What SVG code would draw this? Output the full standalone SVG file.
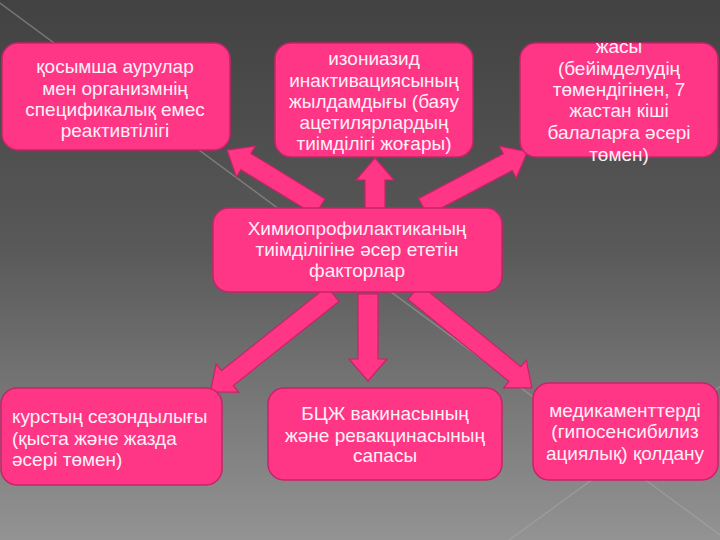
<svg xmlns="http://www.w3.org/2000/svg" width="720" height="540" viewBox="0 0 720 540">
  <defs>
    <linearGradient id="bg" x1="0" y1="0" x2="0" y2="1">
      <stop offset="0" stop-color="#424242"/>
      <stop offset="0.45" stop-color="#585858"/>
      <stop offset="1" stop-color="#939393"/>
    </linearGradient>
  </defs>
  <style>
    .box { fill: #ff3586; stroke: #c62468; stroke-width: 1.5; }
    .arrow { fill: #ff3586; stroke: #c62468; stroke-width: 1.2; stroke-linejoin: miter; }
    .t { font-family: "Liberation Sans", Arial, sans-serif; font-size: 19px; fill: #fff0f6; }
    .c { text-anchor: middle; }
    .deco { stroke: #a9a9a9; stroke-opacity: 0.5; stroke-width: 1.5; fill: none; }
  </style>
  <rect x="0" y="0" width="720" height="540" fill="url(#bg)"/>
  <line class="deco" x1="0" y1="3" x2="720" y2="535"/>
  <line class="deco" x1="505" y1="543" x2="725" y2="383"/>

  <g id="connectors">
    <path class="arrow" transform="translate(320,207) rotate(-148.5)" d="M0,-9.5 H87 V-18 L109,0 L87,18 V9.5 H0 Z"/>
    <path class="arrow" transform="translate(375,212) rotate(-90)" d="M0,-10 H32 V-19 L54,0 L32,19 V10 H0 Z"/>
    <path class="arrow" transform="translate(423,207) rotate(-27.9)" d="M0,-9.5 H96 V-18 L118,0 L96,18 V9.5 H0 Z"/>
    <path class="arrow" transform="translate(333,294) rotate(141.45)" d="M0,-9.5 H135 V-18 L157,0 L135,18 V9.5 H0 Z"/>
    <path class="arrow" transform="translate(368,294) rotate(90)" d="M0,-10 H65 V-19 L87,0 L65,19 V10 H0 Z"/>
    <path class="arrow" transform="translate(414,292) rotate(39.1)" d="M0,-9.5 H130 V-18 L152,0 L130,18 V9.5 H0 Z"/>
  </g>

  <g id="node-comorbid">
    <rect class="box" x="2" y="43" width="228" height="107" rx="16"/>
    <text class="t c" x="115" y="73">қосымша аурулар</text>
    <text class="t c" x="115" y="95">мен организмнің</text>
    <text class="t c" x="115" y="116">спецификалық емес</text>
    <text class="t c" x="115" y="137">реактивтілігі</text>
  </g>

  <g id="node-isoniazid">
    <rect class="box" x="275" y="43" width="198" height="114" rx="16"/>
    <text class="t c" x="374" y="65">изониазид</text>
    <text class="t c" x="374" y="87">инактивациясының</text>
    <text class="t c" x="374" y="108">жылдамдығы (баяу</text>
    <text class="t c" x="374" y="129">ацетилярлардың</text>
    <text class="t c" x="374" y="150">тиімділігі жоғары)</text>
  </g>

  <g id="node-age">
    <rect class="box" x="520" y="43" width="198" height="114" rx="16"/>
    <text class="t c" x="619" y="53">жасы</text>
    <text class="t c" x="619" y="75">(бейімделудің</text>
    <text class="t c" x="619" y="96">төмендігінен, 7</text>
    <text class="t c" x="619" y="117">жастан кіші</text>
    <text class="t c" x="619" y="139">балаларға әсері</text>
    <text class="t c" x="619" y="161">төмен)</text>
  </g>

  <g id="node-center">
    <rect class="box" x="213" y="208" width="289" height="84" rx="16"/>
    <text class="t c" x="357" y="235">Химиопрофилактиканың</text>
    <text class="t c" x="357" y="256">тиімділігіне әсер ететін</text>
    <text class="t c" x="357" y="277">факторлар</text>
  </g>

  <g id="node-season">
    <rect class="box" x="1" y="388" width="221" height="97" rx="16"/>
    <text class="t" x="12" y="423">курстың сезондылығы</text>
    <text class="t" x="12" y="445">(қыста және жазда</text>
    <text class="t" x="12" y="466">әсері төмен)</text>
  </g>

  <g id="node-bcg">
    <rect class="box" x="268" y="388" width="234" height="92" rx="16"/>
    <text class="t c" x="385" y="420">БЦЖ вакинасының</text>
    <text class="t c" x="385" y="442">және ревакцинасының</text>
    <text class="t c" x="385" y="462">сапасы</text>
  </g>

  <g id="node-drugs">
    <rect class="box" x="533" y="383" width="185" height="97" rx="16"/>
    <text class="t c" x="625" y="417">медикаменттерді</text>
    <text class="t c" x="625" y="438">(гипосенсибилиз</text>
    <text class="t c" x="625" y="460">ациялық) қолдану</text>
  </g>
</svg>
